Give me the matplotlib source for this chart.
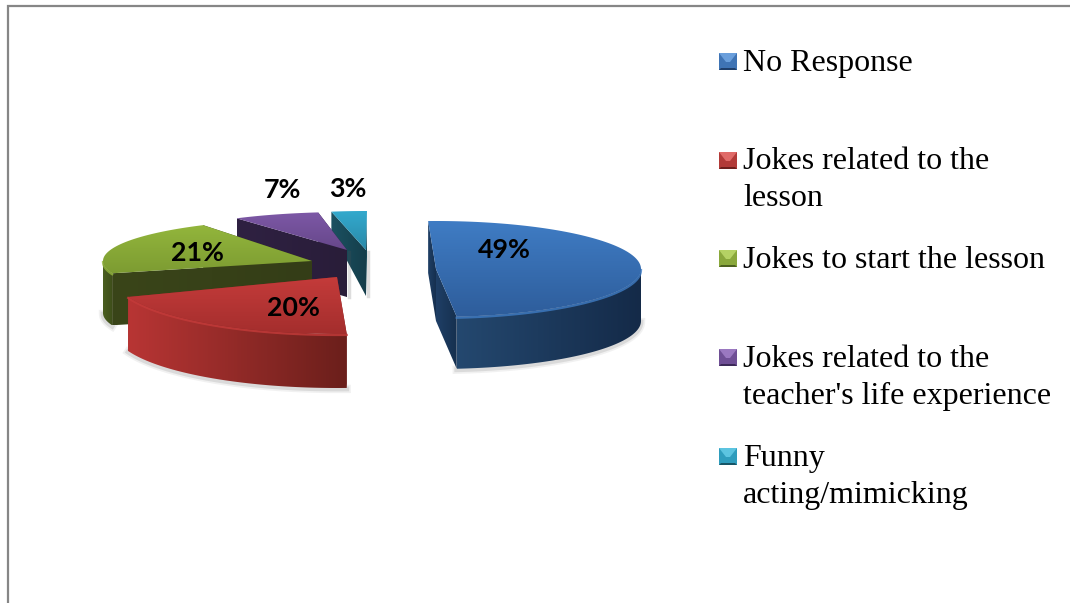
import numpy as np
import matplotlib
matplotlib.use("Agg")
import matplotlib.pyplot as plt
from matplotlib.colors import LinearSegmentedColormap
from matplotlib.patches import Polygon, Rectangle

categories = ["No Response", "Jokes related to the\nlesson", "Jokes to start the lesson",
              "Jokes related to the\nteacher's life experience", "Funny\nacting/mimicking"]
percents = [49, 20, 21, 7, 3]

# look of each slice, in picture pixels (the reference has a perspective, so each one gets its own ellipse)
centres = [(436, 269), (337, 277), (312, 261), (347, 250), (366, 250)]
semi_x = [205, 223, 209, 200, 190]
semi_y = [48, 57, 42, 38, 39]
start_angles = [-2.2, 177.5, 253, 326.5, 349.5]
depths = [52, 54, 52, 47, 46]
far_depths = [52, 54, 52, 47, 20]
label_pos = [(504, 250), (293, 308), (197, 253), (282, 190), (348, 189)]
legend_base = [71, 169, 268, 367, 466]
key_y = [61, 160, 258, 357, 456]

top_cols = [("#3f7cc4", "#2e5d9b"), ("#c43b3a", "#a42e2d"), ("#93b63c", "#7d9c32"),
            ("#7d58a6", "#66478a"), ("#33a9cd", "#2a89a8")]
wall_cols = [("#24486f", "#142a48"), ("#b83534", "#6b1f1b"), ("#4a5f20", "#3e4d1a"),
             ("#2f2142", "#2b1f3d"), ("#174552", "#143c48")]
cut_cols = [("#1f3f66", "#16304f"), ("#8a2a28", "#7a2422"), ("#3a4519", "#343d17"),
            ("#2f2142", "#291d39"), ("#1b5161", "#153e4b")]
key_cols = [("#6a9fdc", "#3f74b5", "#1f3f6b"), ("#e06a68", "#b23a38", "#6d1f1d"),
            ("#b5d264", "#8aa83c", "#4d6120"), ("#9a78c0", "#6f4f95", "#3c2a58"),
            ("#5cc4e0", "#2f9dbd", "#175566")]


def gradient_fill(ax, pts, c0, c1, vertical=True, z=1):
    # image clipped to the polygon, that gives the shaded look
    poly = Polygon(pts, closed=True, fc="none", ec="none", transform=ax.transData)
    ax.add_patch(poly)
    cmap = LinearSegmentedColormap.from_list("g", [c0, c1])
    g = np.linspace(0, 1, 128)
    g = g.reshape(-1, 1) if vertical else g.reshape(1, -1)
    pts = np.asarray(pts)
    ext = (pts[:, 0].min(), pts[:, 0].max(), pts[:, 1].max(), pts[:, 1].min())
    im = ax.imshow(g, cmap=cmap, extent=ext, origin="upper", aspect="auto", zorder=z, interpolation="bilinear")
    im.set_clip_path(poly)


def ell(i, t):
    t = np.radians(t)
    cx, cy = centres[i]
    return np.column_stack([cx + semi_x[i] * np.sin(t), cy - semi_y[i] * np.cos(t)])


fig = plt.figure(figsize=(10.7, 6.03), dpi=100)
ax = fig.add_axes([0, 0, 1, 1])
ax.set_xlim(0, 1070)
ax.set_ylim(603, 0)
ax.set_autoscale_on(False)
ax.axis("off")

# chart border, only top and left are inside the crop
ax.plot([8, 8, 1070], [603, 6, 6], color="#868686", lw=1.6, solid_joinstyle="miter", zorder=0)

# back to front: teal, purple, green, blue, red
z = 2
for i in [4, 3, 2, 0, 1]:
    t0 = start_angles[i]
    t1 = t0 + percents[i] * 3.6
    arc = ell(i, np.linspace(t0, t1, 120))
    apex = np.array(centres[i], dtype=float)
    h = np.array([0, depths[i]])
    far = np.array([0, far_depths[i]])

    # soft shadow under the slice
    if i in (0, 1, 2):
        front = ell(i, np.linspace(max(t0, 90), min(t1, 270), 80))
        for w, a in [(6, 0.08), (3.5, 0.14)]:
            ax.plot(front[:, 0], front[:, 1] + depths[i] + 1, color="#555555", lw=w, alpha=a, zorder=z)
    else:
        ax.plot([apex[0] + 1.5] * 2, [apex[1] + 2, apex[1] + depths[i]], color="#555555", lw=2.5, alpha=0.2, zorder=z)
    z += 1

    # the two cut faces
    gradient_fill(ax, [arc[-1], apex, apex + h, arc[-1] + h], cut_cols[i][0], cut_cols[i][1], vertical=False, z=z)
    z += 1
    gradient_fill(ax, [arc[0], apex, apex + h, arc[0] + far], cut_cols[i][0], cut_cols[i][1], vertical=False, z=z)
    z += 1

    # outer wall, only the part that looks to the viewer
    ts = np.linspace(max(t0, 90), min(t1, 270), 80)
    if ts[-1] > ts[0]:
        front = ell(i, ts)
        gradient_fill(ax, np.vstack([front, (front + h)[::-1]]), wall_cols[i][0], wall_cols[i][1],
                      vertical=False, z=z)
        z += 1
        ax.plot(front[:, 0], front[:, 1] + 1, color=top_cols[i][0], lw=1.6, alpha=0.8, zorder=z)
        z += 1

    # top face
    gradient_fill(ax, np.vstack([apex, arc]), top_cols[i][0], top_cols[i][1], z=z)
    z += 1

for i, v in enumerate(percents):
    ax.text(label_pos[i][0], label_pos[i][1], f"{v}%", family="Lato", weight="bold", fontsize=19.3,
            color="black", ha="center", va="center", zorder=100)

# legend
for i, name in enumerate(categories):
    y = key_y[i]
    x0, x1, y0, y1 = 719, 737, y - 8, y + 9
    light, mid, dark = key_cols[i]
    ax.add_patch(Rectangle((x0, y0), x1 - x0, y1 - y0, fc=mid, ec="none", zorder=50))
    ax.add_patch(Polygon([(x0, y0), (x1, y0), (x1 - 7, y0 + 9), (x0 + 7, y0 + 9)], fc=light, ec="none", zorder=51))
    ax.add_patch(Polygon([(x0, y1), (x1, y1), (x1 - 2, y1 - 2), (x0 + 2, y1 - 2)], fc=dark, ec="none", zorder=51))
    for k, part in enumerate(name.split("\n")):
        ax.text(743, legend_base[i] + k * 37, part, family="Liberation Serif", fontsize=23, color="black",
                ha="left", va="baseline", zorder=100)

fig.savefig("out.png", dpi=100)
